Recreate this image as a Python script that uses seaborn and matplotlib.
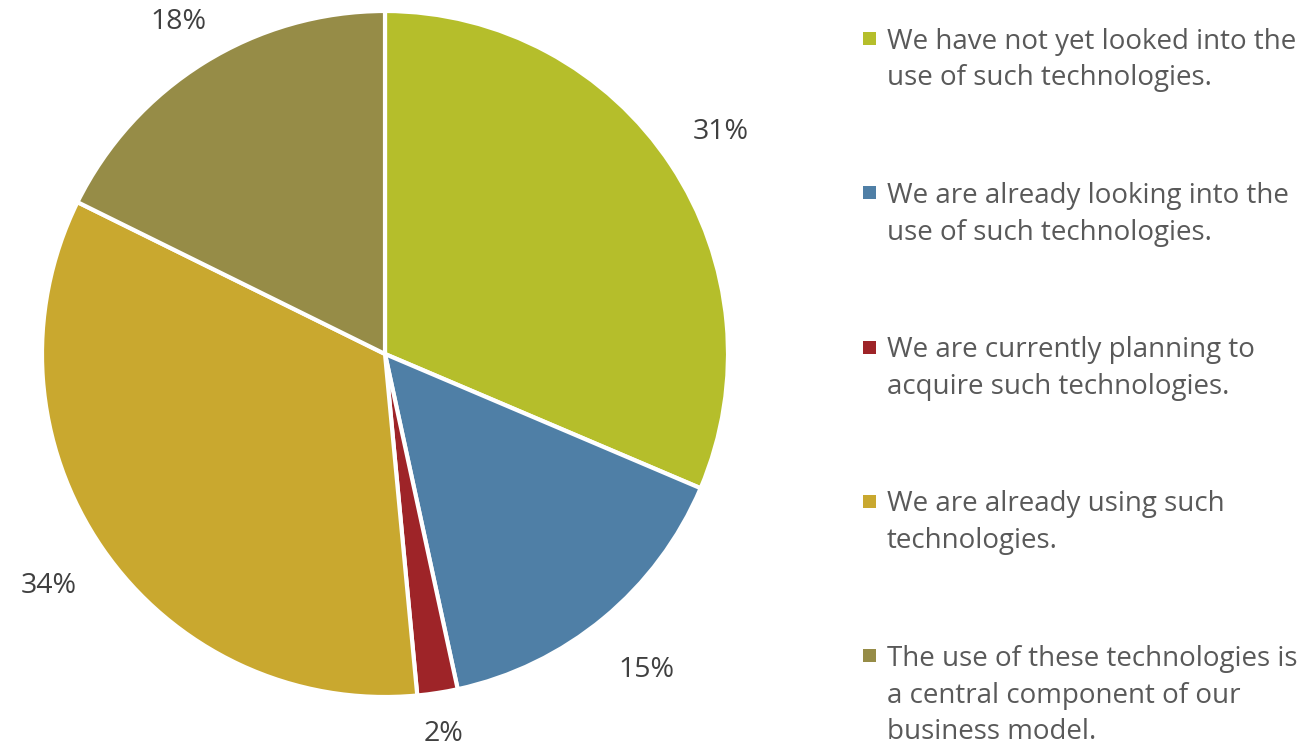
import matplotlib
matplotlib.use("Agg")
import numpy as np
import matplotlib.pyplot as plt
import seaborn as sns
from matplotlib.patches import Rectangle

sns.set_theme(style="white")
plt.rcParams["font.family"] = ["Open Sans", "DejaVu Sans"]

# data (shares)
categories = [
    "We have not yet looked into the\nuse of such technologies.",
    "We are already looking into the\nuse of such technologies.",
    "We are currently planning to\nacquire such technologies.",
    "We are already using such\ntechnologies.",
    "The use of these technologies is\na central component of our\nbusiness model.",
]
shares = [31.4, 15.2, 1.9, 33.8, 17.7]
colors = ["#B5BE2B", "#4F7FA6", "#9E2428", "#C9A82F", "#968C47"]
label_dist = [1.175, 1.195, 1.12, 1.19, 1.14]

W, H = 1305, 751
fig = plt.figure(figsize=(W / 100, H / 100), dpi=100)

# pie axes: centre (385, 354) px, radius 343 px
cx, cy, r = 385, 354, 343
ax = fig.add_axes([(cx - r) / W, (H - cy - r) / H, 2 * r / W, 2 * r / H])
wedges, _, autotexts = ax.pie(
    shares,
    colors=colors,
    startangle=90,
    counterclock=False,
    autopct=lambda p: f"{p:.0f}%",
    pctdistance=1.15,
    wedgeprops=dict(edgecolor="white", linewidth=3),
    textprops=dict(fontsize=20.5, color="#404040"),
)
# place each percentage at its own distance, like the original
for w, t, d in zip(wedges, autotexts, label_dist):
    theta = np.deg2rad((w.theta1 + w.theta2) / 2)
    t.set_position((d * np.cos(theta), d * np.sin(theta)))

ax.set_xlim(-1, 1)
ax.set_ylim(-1, 1)
ax.set_aspect("equal")
ax.axis("off")

# legend, drawn by hand so the marker sits on the first line
for i, (label, color) in enumerate(zip(categories, colors)):
    my = 38.5 + i * 154.3
    fig.add_artist(Rectangle((863 / W, (H - my - 6.5) / H), 13 / W, 13 / H,
                             transform=fig.transFigure, facecolor=color,
                             edgecolor="none"))
    fig.text(887 / W, (H - my + 11) / H, label, fontsize=20, color="#595959",
             va="top", ha="left", linespacing=1.42)

fig.savefig("out.png", dpi=100)
